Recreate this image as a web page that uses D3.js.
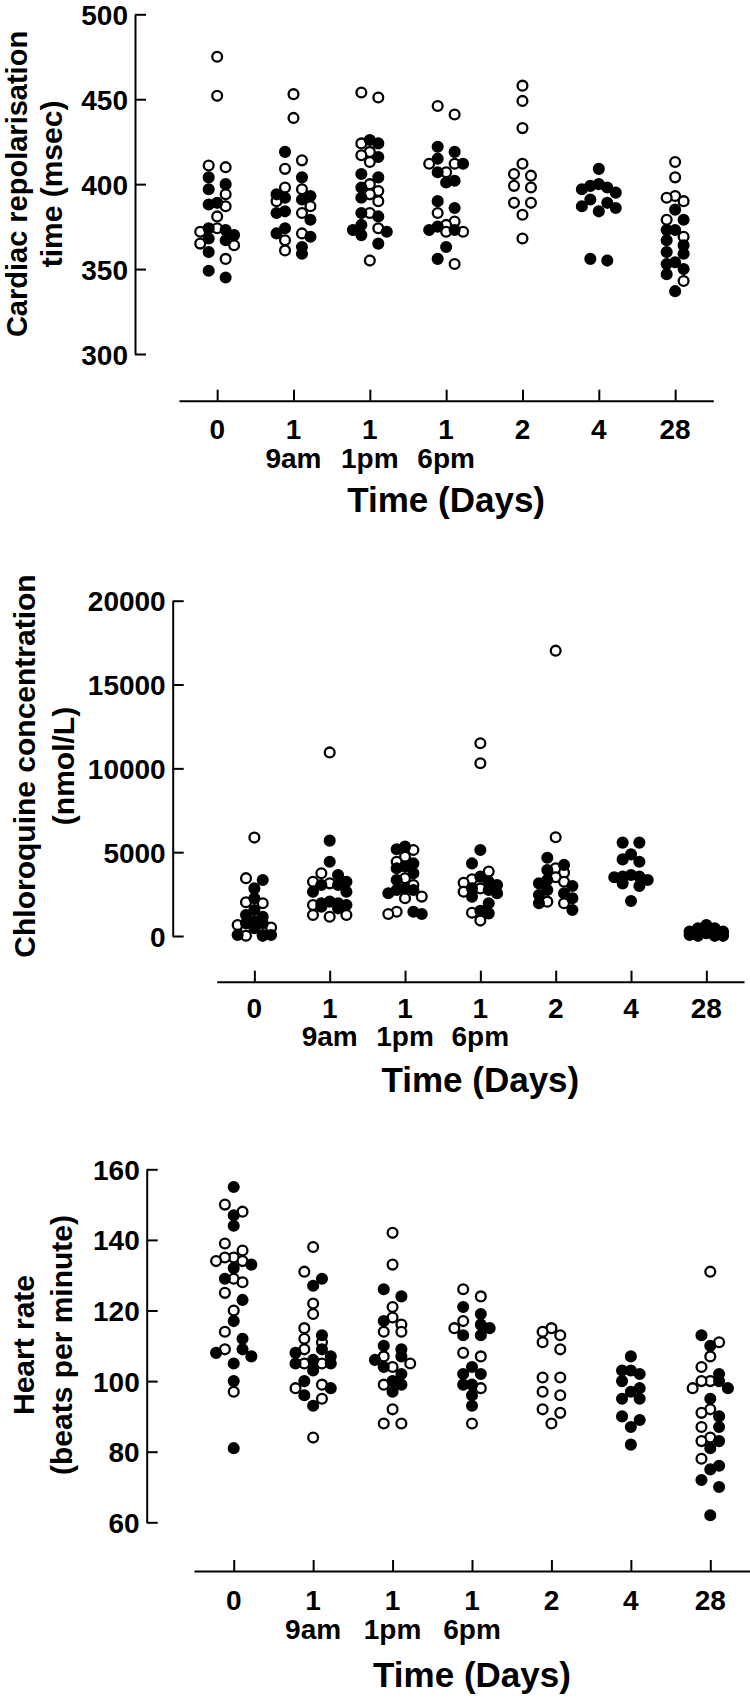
<!DOCTYPE html>
<html><head><meta charset="utf-8">
<script src="https://cdn.jsdelivr.net/npm/d3@7"></script>
<style>
body{margin:0;background:#fff}
svg{display:block}
text{font-family:"Liberation Sans",Arial,Helvetica,sans-serif;font-weight:bold;fill:#000}
</style>
</head><body>
<svg id="chart" width="750" height="1699"></svg>
<script>
// ---------- categories / tick labels ----------
const dayLabels  = ["0","1","1","1","2","4","28"];
const timeLabels = ["","9am","1pm","6pm","","",""];
const qtTicks = [300,350,400,450,500];
const cqTicks = [0,5000,10000,15000,20000];
const hrTicks = [60,80,100,120,140,160];

// ---------- Panel 1: cardiac repolarisation time (msec) ----------
const qtOpen = [
  [475,452,411,410,394,387,381,374,372,365,364,356],
  [453,439,414,409,398,397,390,387,383,371,367,361],
  [454,451,424,419,417,413,400,396,394,390,383,374,355],
  [446,441,412,412,407,383,378,376,372,372,353],
  [458,449,433,412,406,405,399,398,389,389,382,368],
  [],
  [413,404,393,392,390,379,369,343]
];
const qtFilled = [
  [404,400,397,389,388,374,373,370,368,367,360,349,345],
  [419,404,394,393,392,391,384,383,379,374,371,369,363,359],
  [426,424,416,406,404,398,392,383,381,376,373,372,370,365],
  [422,419,415,412,407,402,401,390,386,375,373,373,363,356],
  [],
  [409,400,399,398,397,395,391,389,387,386,384,356,355],
  [385,379,373,373,367,364,360,359,354,353,350,347,337]
];

// ---------- Panel 2: chloroquine concentration (nmol/L) ----------
const cqOpen = [
  [5870,3450,2010,1950,660,500,360,20],
  [10950,3740,3240,3140,1850,1250,1250,1150],
  [5130,4730,4430,3440,3040,2350,2250,1450,1310],
  [11500,10300,3840,3380,3180,2840,2640,1390,920],
  [17020,5890,4040,3780,3500,3240,2050,1950],
  [],
  []
];
const cqFilled = [
  [3340,2840,2250,1550,1250,1150,860,760,760,460,60,60,60,10],
  [5690,4430,3640,3240,3040,3040,2640,2640,2050,1950,1950,1850,1750,1650],
  [5330,5170,4330,4140,4040,3740,3340,2840,2740,2740,2550,1450,1310],
  [5130,4330,3540,3240,3040,2840,2740,2550,2350,1950,1510,1350],
  [4670,4240,3940,3340,3140,2980,2740,2550,2450,2250,1950,1550],
  [5570,5570,4870,4570,4430,3640,3540,3540,3500,3340,3140,2980,2090],
  [660,460,460,260,260,160,60,60,60,10,10,10]
];

// ---------- Panel 3: heart rate (beats per minute) ----------
const hrOpen = [
  [150,148,139,137,135,135,134,134,129,128,125,120,114,109,97],
  [138,131,122,119,115,112,111,109,105,105,99,98,95,84],
  [142,133,121,118,116,114,114,107,105,104,99,92,88,88],
  [126,124,117,115,108,107,98,88],
  [115,114,113,111,109,101,101,97,96,92,91,88],
  [],
  [131,111,107,104,100,100,98,92,91,87,84,83,78]
];
const hrFilled = [
  [155,147,144,133,132,129,123,117,112,109,108,107,105,100,81],
  [129,127,113,109,108,107,106,105,105,103,100,98,96,93],
  [126,124,117,110,109,107,106,104,102,100,99,97],
  [121,119,116,115,113,113,104,102,102,99,99,96,93],
  [],
  [107,103,103,102,100,98,97,95,95,90,89,87,82],
  [113,110,102,100,98,95,90,87,83,81,76,75,72,70,62]
];

// ---------- panel layout (positions / styles) ----------
const panels = [
  {open:qtOpen, filled:qtFilled, domain:[300,500], ticks:qtTicks,
   yRange:[354,14.3], axisX:135, xRange:[179,713.3], xAxisY:400.7,
   title:["Cardiac repolarisation","time (msec)"], titleX:[26.5,62], titleY:184, titleSize:[29,30],
   lab1:439, lab2:467.5, xTitleY:512},
  {open:cqOpen, filled:cqFilled, domain:[0,20000], ticks:cqTicks,
   yRange:[936,600.7], axisX:172.7, xRange:[216.7,744], xAxisY:981.7,
   title:["Chloroquine concentration","(nmol/L)"], titleX:[35,74], titleY:766, titleSize:[30,30],
   lab1:1017.5, lab2:1046, xTitleY:1092},
  {open:hrOpen, filled:hrFilled, domain:[60,160], ticks:hrTicks,
   yRange:[1522.3,1169.3], axisX:146.7, xRange:[194,750], xAxisY:1571,
   title:["Heart rate","(beats per minute)"], titleX:[33.5,72], titleY:1345, titleSize:[30,30],
   lab1:1610, lab2:1638.5, xTitleY:1687}
];

const svg = d3.select("#chart");
const R = 4.9, SW = 2.3, BIN = 9, MAXROW = 5;

// Prism-style column scatter: points with close values share a row and are spread sideways
function place(openVals, filledVals, y, cx, slotW){
  const pts = [];
  openVals.forEach(v => pts.push({v, filled:false}));
  filledVals.forEach(v => pts.push({v, filled:true}));
  pts.forEach(p => p.py = y(p.v));
  pts.sort((a,b) => a.py - b.py);
  const bins = []; let cur = null;
  pts.forEach(p => {
    if (!cur || p.py - cur.start >= BIN || cur.items.length >= MAXROW) { cur = {start:p.py, items:[]}; bins.push(cur); }
    cur.items.push(p);
  });
  bins.forEach(b => {
    const n = b.items.length, order = [];
    if (n % 2) order.push(0);
    for (let k = 1; order.length < n; k++) { order.push(-k); if (order.length < n) order.push(k); }
    b.items.forEach((p,i) => p.px = cx + order[i]*slotW);
  });
  return pts;
}

panels.forEach(P => {
  const y = d3.scaleLinear().domain(P.domain).range(P.yRange);
  const x = d3.scalePoint().domain(d3.range(dayLabels.length)).range(P.xRange).padding(0.5);
  const slotW = x.step()*0.111;

  // y axis: labels left, ticks pointing right
  const ya = svg.append("g").attr("transform",`translate(${P.axisX},0)`)
    .call(d3.axisLeft(y).tickValues(P.ticks).tickSizeInner(-11).tickSizeOuter(0).tickPadding(7).tickFormat(d3.format("d")));
  ya.attr("font-size",null).attr("font-family",null);
  ya.selectAll("path,line").attr("stroke","#000").attr("stroke-width",2);
  ya.selectAll("text").style("font-size","28px").attr("dy","0.36em");

  // x axis: ticks pointing up
  const xa = svg.append("g").attr("transform",`translate(0,${P.xAxisY})`)
    .call(d3.axisBottom(x).tickSizeInner(-11).tickSizeOuter(0).tickFormat(""));
  xa.attr("font-size",null).attr("font-family",null);
  xa.selectAll("path,line").attr("stroke","#000").attr("stroke-width",2);

  // two-line category labels (one text element per tick)
  const lab = svg.append("g");
  lab.selectAll("text.d").data(dayLabels).join("text").attr("class","d")
    .attr("text-anchor","middle").style("font-size","28px")
    .each(function(d,i){
      const el = d3.select(this);
      el.append("tspan").attr("x",x(i)).attr("y",P.lab1).text(d);
      if (timeLabels[i]) el.append("tspan").attr("x",x(i)).attr("y",P.lab2).text(timeLabels[i]);
    });
  lab.append("text").attr("x",(x(0)+x(dayLabels.length-1))/2).attr("y",P.xTitleY)
    .attr("text-anchor","middle").style("font-size","35px").text("Time (Days)");

  // y title (two lines, rotated)
  P.title.forEach((tt,i) => {
    svg.append("text").attr("transform",`translate(${P.titleX[i]},${P.titleY}) rotate(-90)`)
      .attr("text-anchor","middle").style("font-size", P.titleSize[i] + "px").text(tt);
  });

  // points
  let all = [];
  dayLabels.forEach((d,i) => { all = all.concat(place(P.open[i], P.filled[i], y, x(i), slotW)); });
  all.sort((a,b) => (a.filled - b.filled));
  svg.append("g").selectAll("circle").data(all).join("circle")
    .attr("cx",d=>d.px).attr("cy",d=>d.py).attr("r",R)
    .attr("fill",d=>d.filled?"#000":"#fff").attr("stroke","#000").attr("stroke-width",SW);
});
</script>
</body></html>
